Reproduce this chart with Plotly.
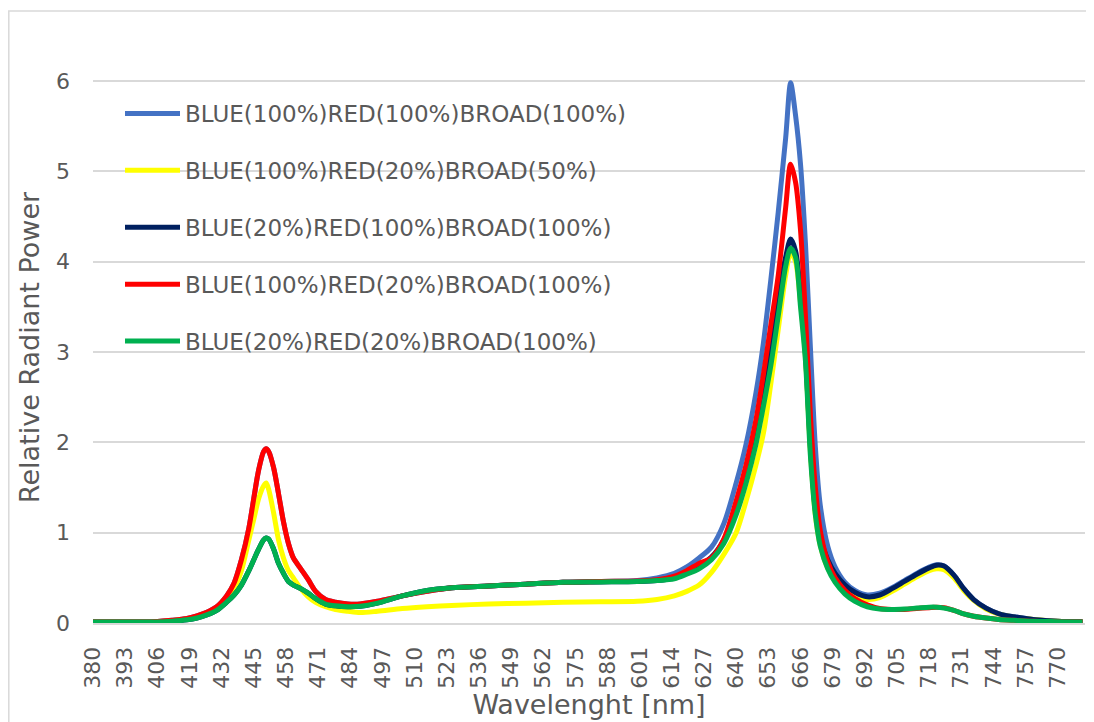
import plotly.graph_objects as go

wavelength = [380, 395, 405, 412, 418, 422, 426, 430, 434, 437,
              440, 443, 445, 447, 449, 450, 451, 453, 455, 457,
              459, 461, 464, 467, 470, 474, 478, 483, 488, 495,
              505, 515, 525, 540, 555, 570, 585, 600, 608, 615,
              620, 625, 630, 635, 640, 644, 648, 651, 654, 657,
              660, 662, 664, 666, 668, 670, 672, 674, 677, 680,
              684, 688, 693, 698, 703, 708, 713, 718, 721, 724,
              728, 732, 736, 741, 746, 752, 760, 770, 780]

blue100_red100_broad100 = [0.01, 0.01, 0.015, 0.03, 0.05, 0.08, 0.12, 0.18, 0.30, 0.44,
                           0.70, 1.05, 1.38, 1.70, 1.90, 1.93, 1.90, 1.72, 1.43, 1.12,
                           0.88, 0.72, 0.60, 0.48, 0.35, 0.26, 0.23, 0.21, 0.21, 0.24,
                           0.30, 0.35, 0.39, 0.41, 0.43, 0.45, 0.46, 0.47, 0.50, 0.55,
                           0.62, 0.72, 0.84, 1.10, 1.55, 1.98, 2.55, 3.10, 3.80, 4.55,
                           5.37, 5.98, 5.62, 5.08, 4.20, 3.05, 1.95, 1.30, 0.85, 0.62,
                           0.45, 0.36, 0.31, 0.33, 0.39, 0.47, 0.55, 0.62, 0.645, 0.63,
                           0.53, 0.38, 0.26, 0.165, 0.105, 0.07, 0.04, 0.02, 0.015]

blue100_red20_broad50 = [0.01, 0.01, 0.012, 0.025, 0.045, 0.07, 0.10, 0.15, 0.26, 0.37,
                         0.58, 0.92, 1.15, 1.38, 1.52, 1.55, 1.48, 1.22, 0.92, 0.72,
                         0.58, 0.50, 0.38, 0.29, 0.23, 0.18, 0.15, 0.13, 0.115, 0.13,
                         0.16, 0.18, 0.195, 0.21, 0.22, 0.23, 0.235, 0.24, 0.26, 0.30,
                         0.35, 0.42, 0.56, 0.76, 1.00, 1.35, 1.75, 2.10, 2.65, 3.25,
                         3.85, 4.10, 4.00, 3.55, 2.95, 1.90, 1.20, 0.86, 0.61, 0.47,
                         0.36, 0.29, 0.26, 0.28, 0.35, 0.43, 0.51, 0.58, 0.60, 0.59,
                         0.50, 0.36, 0.25, 0.155, 0.10, 0.065, 0.04, 0.02, 0.015]

blue20_red100_broad100 = [0.01, 0.01, 0.012, 0.02, 0.035, 0.055, 0.09, 0.14, 0.23, 0.31,
                          0.42, 0.58, 0.70, 0.82, 0.92, 0.94, 0.93, 0.82, 0.66, 0.55,
                          0.46, 0.42, 0.38, 0.33, 0.27, 0.21, 0.19, 0.18, 0.185, 0.22,
                          0.30, 0.36, 0.39, 0.41, 0.43, 0.45, 0.455, 0.46, 0.47, 0.50,
                          0.56, 0.63, 0.73, 0.92, 1.26, 1.65, 2.10, 2.55, 3.05, 3.60,
                          4.05, 4.25, 4.12, 3.65, 2.98, 1.95, 1.25, 0.95, 0.70, 0.55,
                          0.42, 0.34, 0.29, 0.31, 0.38, 0.46, 0.54, 0.61, 0.64, 0.63,
                          0.53, 0.38, 0.26, 0.165, 0.105, 0.07, 0.04, 0.02, 0.015]

blue100_red20_broad100 = [0.01, 0.01, 0.015, 0.03, 0.05, 0.08, 0.12, 0.18, 0.30, 0.44,
                          0.70, 1.05, 1.38, 1.70, 1.90, 1.93, 1.90, 1.72, 1.43, 1.12,
                          0.88, 0.72, 0.60, 0.48, 0.35, 0.26, 0.23, 0.21, 0.21, 0.24,
                          0.30, 0.35, 0.39, 0.41, 0.43, 0.45, 0.46, 0.465, 0.48, 0.52,
                          0.58, 0.66, 0.72, 0.93, 1.35, 1.75, 2.25, 2.75, 3.30, 3.85,
                          4.60, 5.08, 4.88, 4.35, 3.40, 2.30, 1.50, 1.02, 0.68, 0.50,
                          0.36, 0.27, 0.20, 0.16, 0.15, 0.15, 0.16, 0.17, 0.175, 0.17,
                          0.14, 0.10, 0.075, 0.055, 0.04, 0.03, 0.02, 0.015, 0.01]

blue20_red20_broad100 = [0.01, 0.01, 0.012, 0.02, 0.035, 0.055, 0.09, 0.14, 0.23, 0.31,
                         0.42, 0.58, 0.70, 0.82, 0.92, 0.94, 0.93, 0.82, 0.66, 0.55,
                         0.46, 0.42, 0.38, 0.33, 0.27, 0.21, 0.19, 0.18, 0.185, 0.22,
                         0.30, 0.36, 0.39, 0.41, 0.43, 0.45, 0.455, 0.46, 0.47, 0.49,
                         0.54, 0.60, 0.70, 0.88, 1.20, 1.55, 1.98, 2.40, 2.85, 3.40,
                         3.95, 4.15, 4.05, 3.50, 2.90, 1.85, 1.20, 0.85, 0.60, 0.45,
                         0.32, 0.24, 0.18, 0.155, 0.15, 0.155, 0.165, 0.175, 0.175, 0.165,
                         0.14, 0.10, 0.075, 0.055, 0.04, 0.03, 0.02, 0.015, 0.01]

series_names = ["BLUE(100%)RED(100%)BROAD(100%)",
                "BLUE(100%)RED(20%)BROAD(50%)",
                "BLUE(20%)RED(100%)BROAD(100%)",
                "BLUE(100%)RED(20%)BROAD(100%)",
                "BLUE(20%)RED(20%)BROAD(100%)"]
series_values = [blue100_red100_broad100, blue100_red20_broad50,
                 blue20_red100_broad100, blue100_red20_broad100,
                 blue20_red20_broad100]
series_colors = ["#4472C4", "#FFFF00", "#002060", "#FF0000", "#00B050"]

x_tick_labels = [380, 393, 406, 419, 432, 445, 458, 471, 484, 497, 510, 523,
                 536, 549, 562, 575, 588, 601, 614, 627, 640, 653, 666, 679,
                 692, 705, 718, 731, 744, 757, 770]
y_tick_labels = [0, 1, 2, 3, 4, 5, 6]

FONT = "DejaVu Sans"
GRAY = "#595959"

fig = go.Figure()
for i, (name, vals, col) in enumerate(zip(series_names, series_values, series_colors)):
    fig.add_trace(go.Scatter(
        x=wavelength, y=vals, name=name, mode="lines",
        line=dict(color=col, width=5, shape="spline", smoothing=0.8),
        legendgroup=f"g{i}",
    ))

# page is offset by 8px body margin
OFF = 8
W, H = 1094, 722
L, T = 93 - OFF, 72 - OFF
R = W - (1085 - OFF)
B = H - (623 - OFF)
pw, ph = W - L - R, H - T - B


def px_x(p):
    return (p - OFF - L) / pw


def px_y(p):
    return ((623 - OFF) - (p - OFF)) / ph


fig.update_layout(
    width=W, height=H,
    margin=dict(l=L, r=R, t=T, b=B, autoexpand=False),
    paper_bgcolor="white", plot_bgcolor="white",
    font=dict(family=FONT, color=GRAY, size=20),
    showlegend=True,
    legend=dict(
        x=px_x(120), y=px_y(92), xanchor="left", yanchor="top",
        bgcolor="rgba(0,0,0,0)", font=dict(family=FONT, size=23, color=GRAY),
        traceorder="grouped", tracegroupgap=24, itemwidth=55,
    ),
    xaxis=dict(
        range=[380, 781], tickmode="array", tickvals=x_tick_labels,
        ticktext=[str(v) for v in x_tick_labels], tickangle=-90,
        tickfont=dict(family=FONT, size=22, color=GRAY),
        showgrid=False, zeroline=False, showline=True, linecolor="#d9d9d9", linewidth=2,
        ticks="", ticklabelstandoff=13,
        title=dict(text="Wavelenght [nm]", font=dict(family=FONT, size=27, color=GRAY), standoff=7),
    ),
    yaxis=dict(
        range=[0, 6.1], tickmode="array", tickvals=y_tick_labels,
        ticktext=[str(v) for v in y_tick_labels],
        tickfont=dict(family=FONT, size=22, color=GRAY),
        showgrid=True, gridcolor="#d9d9d9", gridwidth=1.5, zeroline=False,
        showline=False, ticks="", ticklabelstandoff=22,
        title=dict(text="Relative Radiant Power", font=dict(family=FONT, size=27, color=GRAY), standoff=8),
    ),
    shapes=[dict(type="rect", xref="paper", yref="paper",
                 x0=px_x(8.8), x1=px_x(1091),
                 y0=px_y(740), y1=px_y(11),
                 line=dict(color="#d9d9d9", width=1.5), fillcolor="rgba(0,0,0,0)", layer="below")],
)

fig.write_html("out.html")
